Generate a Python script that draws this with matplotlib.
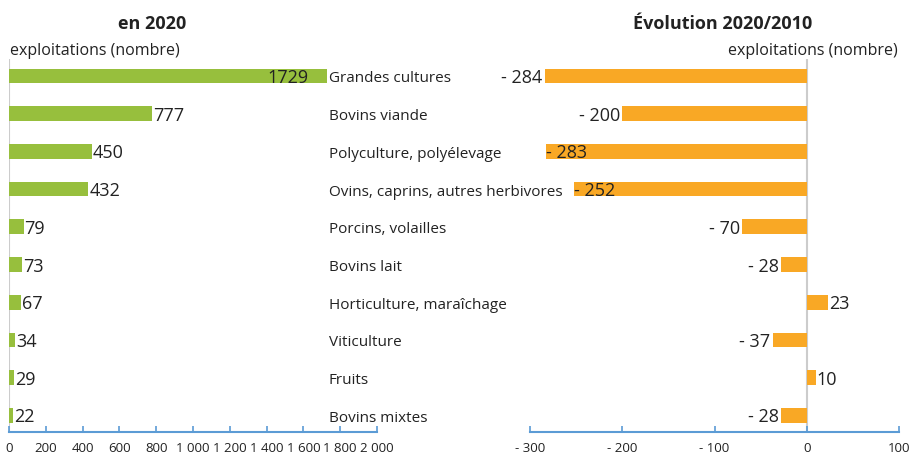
import matplotlib
matplotlib.use("Agg")
import matplotlib.pyplot as plt
from matplotlib.ticker import FuncFormatter

plt.rcParams['font.family'] = ['Open Sans', 'DejaVu Sans']

categories = ["Grandes cultures", "Bovins viande", "Polyculture, polyélevage",
              "Ovins, caprins, autres herbivores", "Porcins, volailles", "Bovins lait",
              "Horticulture, maraîchage", "Viticulture", "Fruits", "Bovins mixtes"]
count_2020 = [1729, 777, 450, 432, 79, 73, 67, 34, 29, 22]
evol = [-284, -200, -283, -252, -70, -28, 23, -37, 10, -28]
left_ticks = [0, 200, 400, 600, 800, 1000, 1200, 1400, 1600, 1800, 2000]
right_ticks = [-300, -200, -100, 0, 100]

GREEN = "#97bf3d"
ORANGE = "#f9a825"
BLUE = "#5b9bd5"
GREY = "#cccccc"
TXT = "#222222"

W, H = 909, 454
fig = plt.figure(figsize=(W / 100, H / 100), dpi=100)

def ax_rect(x0, x1, y0, y1):
    return [x0 / W, 1 - y1 / H, (x1 - x0) / W, (y1 - y0) / H]

axL = fig.add_axes(ax_rect(9, 377, 59.4, 432))
axR = fig.add_axes(ax_rect(530, 899, 59.4, 432))

n = len(categories)
ypos = list(range(n))

for ax in (axL, axR):
    for s in ("top", "right", "left"):
        ax.spines[s].set_visible(False)
    ax.spines["bottom"].set_color(BLUE)
    ax.spines["bottom"].set_linewidth(1.5)
    ax.tick_params(axis="x", direction="in", length=4, width=1.2, color=BLUE,
                   labelsize=9.5, labelcolor=TXT, pad=7)
    ax.tick_params(axis="y", left=False, labelleft=False)
    ax.set_ylim(n - 1 + 0.44, -0.44)
    ax.axvline(0, color=GREY, lw=1.5, zorder=0)
    ax.set_facecolor("none")

thousands = FuncFormatter(lambda v, p: f"{int(v):,}".replace(",", " "))
axL.set_xlim(0, 2000)
axL.set_xticks(left_ticks)
axL.xaxis.set_major_formatter(thousands)
axL.barh(ypos, count_2020, height=0.39, color=GREEN, zorder=2)
LFS = 13
for i, v in enumerate(count_2020):
    if i == 0:
        axL.annotate(str(v), (v, i), xytext=(-13.5, 0), textcoords="offset points",
                     ha="right", va="center_baseline", fontsize=LFS, color=TXT, zorder=3)
    else:
        axL.annotate(str(v), (v, i), xytext=(0.5, 0), textcoords="offset points",
                     ha="left", va="center_baseline", fontsize=LFS, color=TXT, zorder=3)

axR.set_xlim(-300, 100)
axR.set_xticks(right_ticks)
axR.xaxis.set_major_formatter(FuncFormatter(lambda v, p: f"- {abs(int(v))}" if v < 0 else f"{int(v)}"))
axR.barh(ypos, evol, height=0.39, color=ORANGE, zorder=2)
inside = {2, 3}
for i, v in enumerate(evol):
    lab = f"- {abs(v)}" if v < 0 else str(v)
    if v >= 0:
        axR.annotate(lab, (v, i), xytext=(0.5, 0), textcoords="offset points",
                     ha="left", va="center_baseline", fontsize=LFS, color=TXT, zorder=3)
    elif i in inside:
        axR.annotate(lab, (v, i), xytext=(0, 0), textcoords="offset points",
                     ha="left", va="center_baseline", fontsize=LFS, color=TXT, zorder=3)
    else:
        axR.annotate(lab, (v, i), xytext=(-1.5, 0), textcoords="offset points",
                     ha="right", va="center_baseline", fontsize=LFS, color=TXT, zorder=3)

# category labels between panels
for i, c in enumerate(categories):
    y = 77 + 37.7 * i
    fig.text(329 / W, 1 - y / H, c, ha="left", va="center_baseline", fontsize=11, color=TXT)

fig.text(152 / W, 1 - 22 / H, "en 2020", ha="center", va="center_baseline",
         fontsize=13, fontweight="bold", color=TXT)
fig.text(723 / W, 1 - 22 / H, "Évolution 2020/2010", ha="center", va="center_baseline",
         fontsize=13, fontweight="bold", color=TXT)
fig.text(10 / W, 1 - 49 / H, "exploitations (nombre)", ha="left", va="center_baseline",
         fontsize=11.5, color=TXT)
fig.text(898 / W, 1 - 49 / H, "exploitations (nombre)", ha="right", va="center_baseline",
         fontsize=11.5, color=TXT)

fig.savefig("out.png", dpi=100)
